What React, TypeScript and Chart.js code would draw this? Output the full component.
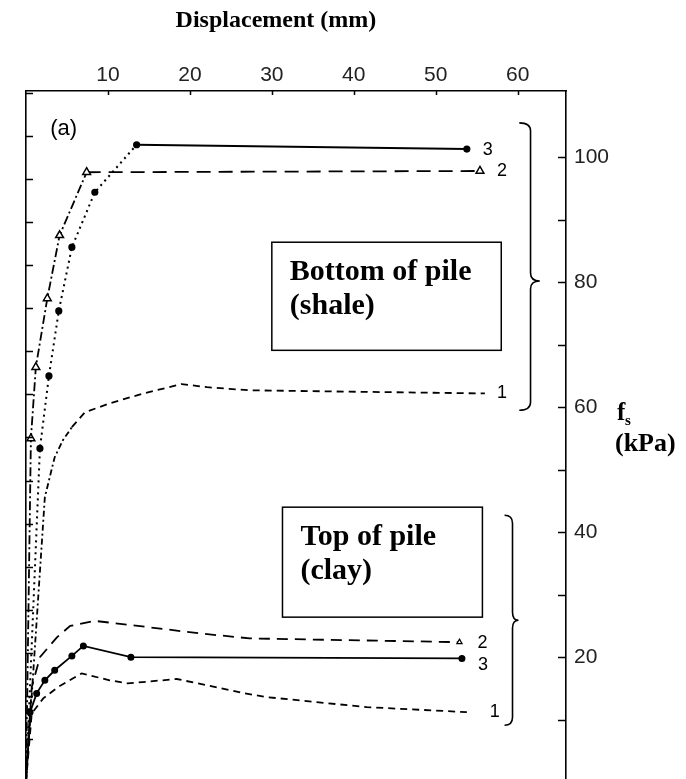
import React, { useEffect, useRef } from 'react';
import { Chart, registerables } from 'chart.js';

Chart.register(...registerables);

// ---------- axis ticks ----------
const xTickValues = [10, 20, 30, 40, 50, 60];          // Displacement (mm), top axis
const fsLabelTicks = [20, 40, 60, 80, 100];             // f_s (kPa), right axis labels
const fsMinorTicks = [10, 20, 30, 40, 50, 60, 70, 80, 90, 100];
const psiTicks = [1, 2, 3, 4, 5, 6, 7, 8, 9, 10, 11, 12, 13, 14, 15, 16]; // left axis, unlabelled

// ---------- Bottom of pile (shale) ----------
const shale1X = [0, 2.3, 3.5, 4.5, 5.6, 7.2, 10.2, 14.3, 19.0, 22.1, 27.3, 56.0];
const shale1Y = [0, 45.6, 52.0, 54.7, 56.8, 59.2, 60.6, 62.2, 63.7, 63.2, 62.7, 62.2];
const shale2X = [0, 0.6, 1.2, 2.6, 4.1, 7.4, 55.4];
const shale2Y = [0, 55.0, 66.4, 77.4, 87.5, 97.6, 97.8];
const shale3X = [0, 1.7, 2.8, 4.0, 5.6, 8.4, 13.5, 53.8];
const shale3Y = [0, 53.4, 65.0, 75.4, 85.6, 94.4, 102.0, 101.3];

// ---------- Top of pile (clay) ----------
const clay1X = [0, 0.7, 2.1, 3.9, 6.8, 10.2, 12.4, 18.4, 22.1, 26.7, 29.4, 41.6, 53.8];
const clay1Y = [0, 11.0, 13.4, 15.2, 17.4, 16.3, 15.8, 16.5, 15.5, 14.2, 13.6, 12.0, 11.2];
const clay2X = [0, 0.7, 1.7, 3.8, 5.4, 8.4, 13.0, 21.2, 27.3, 52.9];
const clay2Y = [0, 15.2, 20.0, 23.2, 25.0, 25.8, 25.1, 23.8, 23.0, 22.4];
const clay3X = [0, 0.5, 1.3, 2.3, 3.5, 5.6, 7.0, 12.8, 53.2];
const clay3Y = [0, 11.2, 14.2, 16.3, 17.9, 20.2, 21.8, 20.0, 19.8];

const curveLabels = ['1', '2', '3', '1', '2', '3'];
const groupTitles = [['Bottom of pile', '(shale)'], ['Top of pile', '(clay)']];

// ---------- annotation placement (data coordinates), kept apart from values ----------
const labelOffsets = [[12, 0], [17, 0], [16, 1], [23, 0], [18, 1], [16, 7]];
const boxRects = [
  { x0: 30.0, x1: 58.0, y0: 86.4, y1: 69.1 },
  { x0: 31.3, x1: 55.7, y0: 44.0, y1: 26.4 },
];
const braces = [
  { x0: 60.2, tip: 62.7, top: 105.5, mid: 80.2, bottom: 59.5 },
  { x0: 58.4, tip: 60.1, top: 42.7, mid: 25.9, bottom: 9.1 },
];
const X_MAX = 65.9;
const Y_MIN = 0.5;
const Y_MAX = 110.6;
const KPA_PER_PSI = 6.895;

const SERIF = '"Liberation Serif", "Times New Roman", serif';
const SANS = '"Liberation Sans", Arial, sans-serif';

const pts = (xs: number[], ys: number[]) => xs.map((x, i) => ({ x, y: ys[i] }));

const zeroPad = (s: any) => {
  s.paddingTop = 0;
  s.paddingBottom = 0;
  s.paddingLeft = 0;
  s.paddingRight = 0;
};

const decorPlugin = {
  id: 'decor',
  afterDraw(chart: any) {
    const { ctx, chartArea: ca, scales } = chart;
    const xs = scales.x;
    const ys = scales.y;
    const ps = scales.psi;
    ctx.save();
    ctx.strokeStyle = '#000';
    ctx.fillStyle = '#000';
    ctx.lineWidth = 1.5;

    // inside tick marks
    ctx.beginPath();
    fsMinorTicks.forEach((v) => {
      const py = Math.round(ys.getPixelForValue(v)) + 0.5;
      ctx.moveTo(ca.right - 8, py);
      ctx.lineTo(ca.right, py);
    });
    psiTicks.forEach((v) => {
      const py = Math.round(ps.getPixelForValue(v)) + 0.5;
      ctx.moveTo(ca.left, py);
      ctx.lineTo(ca.left + 7, py);
    });
    xTickValues.forEach((v) => {
      const px = Math.round(xs.getPixelForValue(v)) + 0.5;
      ctx.moveTo(px, ca.top);
      ctx.lineTo(px, ca.top + 4);
    });
    ctx.stroke();

    // axis title (top)
    ctx.font = `bold 24px ${SERIF}`;
    ctx.textAlign = 'center';
    ctx.textBaseline = 'middle';
    ctx.fillText('Displacement (mm)', xs.getPixelForValue(30.5), 21);

    // f_s (kPa)
    const fy = ys.getPixelForValue(58);
    ctx.textAlign = 'left';
    ctx.textBaseline = 'alphabetic';
    ctx.font = `bold 25px ${SERIF}`;
    ctx.fillText('f', ca.right + 51, fy);
    ctx.font = `bold 15px ${SERIF}`;
    ctx.fillText('s', ca.right + 59, fy + 5);
    ctx.font = `bold 26px ${SERIF}`;
    ctx.fillText('(kPa)', ca.right + 49, fy + 31);

    // (a)
    ctx.font = `22px ${SANS}`;
    ctx.textAlign = 'center';
    ctx.textBaseline = 'middle';
    ctx.fillText('(a)', xs.getPixelForValue(4.6), ys.getPixelForValue(104.6));

    // group boxes
    boxRects.forEach((b, i) => {
      const l = xs.getPixelForValue(b.x0);
      const r = xs.getPixelForValue(b.x1);
      const t = ys.getPixelForValue(b.y0);
      const btm = ys.getPixelForValue(b.y1);
      ctx.fillStyle = '#fff';
      ctx.fillRect(l, t, r - l, btm - t);
      ctx.lineWidth = 1.5;
      ctx.strokeRect(l, t, r - l, btm - t);
      ctx.fillStyle = '#000';
      ctx.font = `bold 30px ${SERIF}`;
      ctx.textAlign = 'left';
      ctx.textBaseline = 'middle';
      ctx.fillText(groupTitles[i][0], l + 18, t + 30);
      ctx.fillText(groupTitles[i][1], l + 18, t + 64);
    });

    // braces
    ctx.lineWidth = 1.6;
    braces.forEach((b) => {
      const x0 = xs.getPixelForValue(b.x0);
      const xt = xs.getPixelForValue(b.tip);
      const xm = (x0 + xt) / 2 + 1;
      const t = ys.getPixelForValue(b.top);
      const m = ys.getPixelForValue(b.mid);
      const bt = ys.getPixelForValue(b.bottom);
      const r = 8;
      ctx.beginPath();
      ctx.moveTo(x0, t);
      ctx.quadraticCurveTo(xm, t, xm, t + r);
      ctx.lineTo(xm, m - r);
      ctx.quadraticCurveTo(xm, m, xt, m);
      ctx.quadraticCurveTo(xm, m, xm, m + r);
      ctx.lineTo(xm, bt - r);
      ctx.quadraticCurveTo(xm, bt, x0, bt);
      ctx.stroke();
    });

    // curve end labels
    ctx.font = `18px ${SANS}`;
    ctx.textAlign = 'left';
    ctx.textBaseline = 'middle';
    chart.data.datasets.forEach((ds: any, i: number) => {
      const last = ds.data[ds.data.length - 1];
      const px = xs.getPixelForValue(last.x) + labelOffsets[i][0];
      const py = ys.getPixelForValue(last.y) + labelOffsets[i][1];
      ctx.fillText(curveLabels[i], px, py);
    });
    ctx.restore();
  },
};

export default function App() {
  const ref = useRef<HTMLCanvasElement | null>(null);

  useEffect(() => {
    if (!ref.current) return;
    const black = '#000';
    const base = {
      borderColor: black,
      backgroundColor: black,
      borderWidth: 1.8,
      fill: false,
      tension: 0,
      pointRadius: 0,
      pointHoverRadius: 0,
    };
    const chart = new Chart(ref.current, {
      type: 'line',
      data: {
        datasets: [
          {
            ...base,
            label: 'shale 1',
            data: pts(shale1X, shale1Y),
            borderDash: [7, 5],
            segment: { borderDash: (c: any) => (c.p1DataIndex <= 4 ? [6, 3, 2, 3] : [7, 5]) },
          },
          {
            ...base,
            label: 'shale 2',
            data: pts(shale2X, shale2Y),
            borderDash: [14, 8],
            segment: { borderDash: (c: any) => (c.p1DataIndex <= 5 ? [9, 3, 2, 3] : [14, 8]) },
            pointStyle: 'triangle',
            pointRadius: (c: any) => (c.dataIndex === 0 ? 0 : 4.5),
            pointBackgroundColor: '#fff',
            pointBorderColor: black,
            pointBorderWidth: 1.5,
          },
          {
            ...base,
            label: 'shale 3',
            data: pts(shale3X, shale3Y),
            borderWidth: 2,
            segment: { borderDash: (c: any) => (c.p1DataIndex <= 6 ? [2, 4] : []) },
            pointStyle: 'circle',
            pointRadius: (c: any) => (c.dataIndex === 0 ? 0 : 2.6),
          },
          {
            ...base,
            label: 'clay 1',
            data: pts(clay1X, clay1Y),
            borderDash: [7, 5],
          },
          {
            ...base,
            label: 'clay 2',
            data: pts(clay2X, clay2Y),
            borderDash: [11, 7],
            pointStyle: 'triangle',
            pointRadius: (c: any) => (c.dataIndex === clay2X.length - 1 ? 3 : 0),
            pointBackgroundColor: '#fff',
            pointBorderColor: black,
            pointBorderWidth: 1.2,
          },
          {
            ...base,
            label: 'clay 3',
            data: pts(clay3X, clay3Y),
            borderWidth: 1.8,
            pointStyle: 'circle',
            pointRadius: (c: any) => (c.dataIndex === 0 ? 0 : 2.6),
          },
        ],
      },
      options: {
        animation: false,
        responsive: false,
        devicePixelRatio: 1,
        layout: { padding: 0, autoPadding: false },
        plugins: {
          legend: { display: false },
          tooltip: { enabled: false },
        },
        scales: {
          x: {
            type: 'linear',
            position: 'top',
            min: 0,
            max: X_MAX,
            afterBuildTicks: (s: any) => {
              s.ticks = xTickValues.map((v) => ({ value: v }));
            },
            afterFit: (s: any) => {
              s.height = 91;
              zeroPad(s);
            },
            grid: { display: true, drawOnChartArea: false, drawTicks: false },
            border: { display: true, color: black, width: 1.6 },
            ticks: {
              padding: 3,
              color: '#222',
              font: { family: SANS, size: 21 },
              maxRotation: 0,
              autoSkip: false,
            },
          },
          y: {
            type: 'linear',
            position: 'right',
            min: Y_MIN,
            max: Y_MAX,
            afterBuildTicks: (s: any) => {
              s.ticks = fsLabelTicks.map((v) => ({ value: v }));
            },
            afterFit: (s: any) => {
              s.width = 120;
              zeroPad(s);
            },
            grid: { display: true, drawOnChartArea: false, drawTicks: false },
            border: { display: true, color: black, width: 1.6 },
            ticks: {
              padding: 8,
              color: '#222',
              font: { family: SANS, size: 21 },
              autoSkip: false,
            },
          },
          psi: {
            type: 'linear',
            position: 'left',
            min: Y_MIN / KPA_PER_PSI,
            max: Y_MAX / KPA_PER_PSI,
            afterBuildTicks: (s: any) => {
              s.ticks = psiTicks.map((v) => ({ value: v }));
            },
            afterFit: (s: any) => {
              s.width = 26;
              zeroPad(s);
            },
            grid: { display: true, drawOnChartArea: false, drawTicks: false },
            border: { display: true, color: black, width: 1.6 },
            ticks: { display: false },
          },
        },
      },
      plugins: [decorPlugin],
    } as any);
    return () => chart.destroy();
  }, []);

  return (
    <div style={{ position: 'fixed', left: 0, top: 0, width: 686, height: 779, background: '#fff' }}>
      <canvas ref={ref} width={686} height={779} style={{ width: 686, height: 779, display: 'block' }} />
    </div>
  );
}
